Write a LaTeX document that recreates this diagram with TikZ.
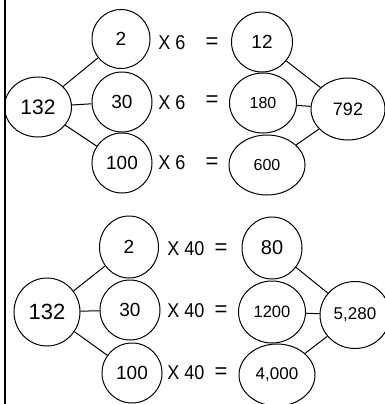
\documentclass[tikz,border=0pt]{standalone}
\usepackage{fontspec}
\setmainfont{Liberation Sans}
\newfontfamily\opfont[FakeStretch=0.9]{Liberation Sans}
\usetikzlibrary{shapes.geometric}

\begin{document}
\begin{tikzpicture}[x=1pt,y=-1pt,
    num/.style={draw, ellipse, line width=1pt, inner sep=0pt},
    op/.style={font=\opfont\fontsize{20}{24}\selectfont},
    eq/.style={font=\fontsize{22}{26}\selectfont}]
  \useasboundingbox (0,0) rectangle (385,404);
  \draw[line width=2pt] (4.5,0) -- (4.5,404);

  % 132 x 6
  \node[num, minimum width=67pt, minimum height=60pt, font=\fontsize{21}{24}\selectfont] (a) at (38,107) {132};
  \node[num, minimum width=58pt, minimum height=59pt, font=\fontsize{19}{22}\selectfont] (a1) at (121,39) {2};
  \node[num, minimum width=60pt, minimum height=60pt, font=\fontsize{19}{22}\selectfont] (a2) at (122,102) {30};
  \node[num, minimum width=60pt, minimum height=60pt, font=\fontsize{19}{22}\selectfont] (a3) at (122,163) {100};
  \node[op] (ax1) at (172,43) {X 6};
  \node[op] (ax2) at (172,103) {X 6};
  \node[op] (ax3) at (172,163) {X 6};
  \node[eq] (ae1) at (212,43) {=};
  \node[eq] (ae2) at (212,101) {=};
  \node[eq] (ae3) at (212,163) {=};
  \node[num, minimum width=61pt, minimum height=60pt, font=\fontsize{19}{22}\selectfont] (b1) at (262,42) {12};
  \node[num, minimum width=67pt, minimum height=60pt, font=\fontsize{16}{19}\selectfont] (b2) at (263,103) {180};
  \node[num, minimum width=76pt, minimum height=60pt, font=\fontsize{16}{19}\selectfont] (b3) at (267,165) {600};
  \node[num, minimum width=74pt, minimum height=62pt, font=\fontsize{18}{21}\selectfont] (b) at (348,109) {792};
  \draw[line width=1pt] (a) -- (a1);
  \draw[line width=1pt] (a) -- (a2);
  \draw[line width=1pt] (a) -- (a3);
  \draw[line width=1pt] (b1) -- (b);
  \draw[line width=1pt] (b2) -- (b);
  \draw[line width=1pt] (b3) -- (b);

  % 132 x 40
  \node[num, minimum width=66pt, minimum height=68pt, font=\fontsize{22}{26}\selectfont] (c) at (47,312) {132};
  \node[num, minimum width=59pt, minimum height=62pt, font=\fontsize{19}{22}\selectfont] (c1) at (129,247) {2};
  \node[num, minimum width=60pt, minimum height=60pt, font=\fontsize{19}{22}\selectfont] (c2) at (130,310) {30};
  \node[num, minimum width=60pt, minimum height=60pt, font=\fontsize{19}{22}\selectfont] (c3) at (132,373) {100};
  \node[op] (cx1) at (186,249) {X 40};
  \node[op] (cx2) at (186,311) {X 40};
  \node[op] (cx3) at (186,373) {X 40};
  \node[eq] (ce1) at (221,249) {=};
  \node[eq] (ce2) at (221,311) {=};
  \node[eq] (ce3) at (221,373) {=};
  \node[num, minimum width=60pt, minimum height=62pt, font=\fontsize{20}{23}\selectfont] (d1) at (272,248) {80};
  \node[num, minimum width=67pt, minimum height=62pt, font=\fontsize{16.5}{19}\selectfont] (d2) at (272,312) {1200};
  \node[num, minimum width=76pt, minimum height=62pt, font=\fontsize{17}{20}\selectfont] (d3) at (277,375) {4,000};
  \node[num, minimum width=70pt, minimum height=67pt, font=\fontsize{17}{20}\selectfont] (d) at (355,315) {5,280};
  \draw[line width=1pt] (c) -- (c1);
  \draw[line width=1pt] (c) -- (c2);
  \draw[line width=1pt] (c) -- (c3);
  \draw[line width=1pt] (d1) -- (d);
  \draw[line width=1pt] (d2) -- (d);
  \draw[line width=1pt] (d3) -- (d);
\end{tikzpicture}
\end{document}
